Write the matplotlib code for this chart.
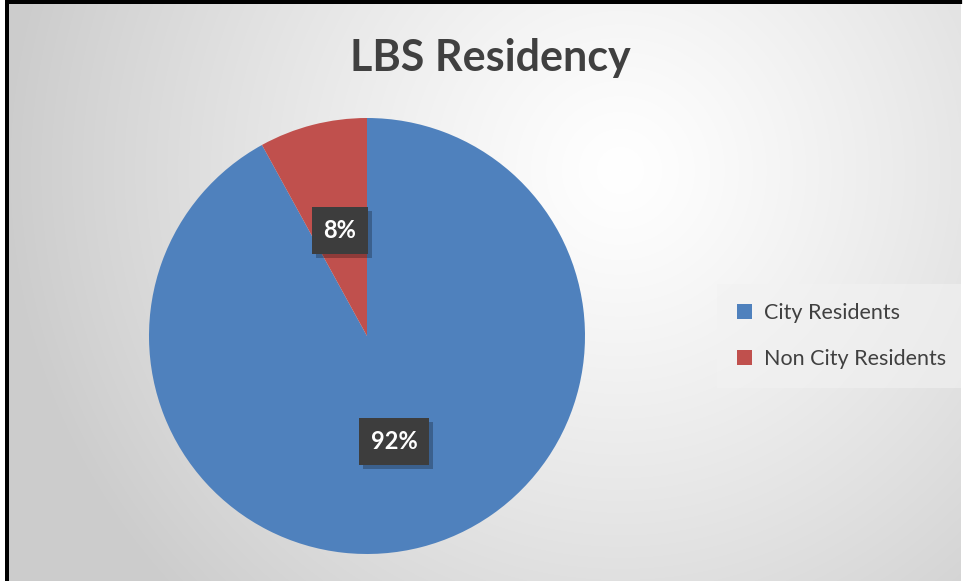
import numpy as np
import matplotlib
matplotlib.use("Agg")
import matplotlib.pyplot as plt
from matplotlib.patches import Rectangle
import matplotlib.patheffects as pe

title = "LBS Residency"
categories = ["City Residents", "Non City Residents"]
values = [92, 8]
colors = ["#4F81BD", "#C0504D"]

W, H = 963, 584
plt.rcParams['font.family'] = ['Lato', 'DejaVu Sans']

fig = plt.figure(figsize=(W / 100, H / 100), dpi=100)
ax = fig.add_axes([0, 0, 1, 1])

# radial gradient background
yy, xx = np.mgrid[0:H, 0:W]
cx, cy = 620, 170
d = np.sqrt((xx - cx) ** 2 + (yy - cy) ** 2) / 620.0
d = np.clip(d, 0, 1)
g = 1.0 - 0.20 * d ** 1.2
img = np.dstack([g, g, g])
ax.imshow(img, extent=(0, W, 0, H), origin='upper', zorder=0)

wedges, texts, autotexts = ax.pie(
    values, colors=colors, startangle=90, counterclock=False,
    center=(367, H - 336), radius=218, autopct='%.0f%%', pctdistance=0.5,
    textprops=dict(color='white', fontsize=17, fontweight='bold'),
    wedgeprops=dict(linewidth=0),
)
for w in wedges:
    w.set_zorder(2)
for t in autotexts:
    t.set_zorder(5)
    t.set_bbox(dict(boxstyle='square,pad=0.5', facecolor='#3d3d3d', edgecolor='none'))
    t.get_bbox_patch().set_path_effects([
        pe.SimplePatchShadow(offset=(3, -3), shadow_rgbFace='black', alpha=0.25),
        pe.Normal()])

ax.set_xlim(0, W)
ax.set_ylim(0, H)
ax.set_aspect('auto')
ax.axis('off')

ax.text(490, H - 58, title, ha='center', va='center', fontsize=31,
        fontweight='bold', color='#404040', zorder=6)

# borders
ax.add_patch(Rectangle((5, 0), 4, H, facecolor='black', edgecolor='none', zorder=7))
ax.add_patch(Rectangle((5, H - 4), W - 6, 4, facecolor='black', edgecolor='none', zorder=7))
ax.add_patch(Rectangle((0, 0), 5, H, facecolor='white', edgecolor='none', zorder=7))
ax.add_patch(Rectangle((0, 0), W, 3, facecolor='white', edgecolor='none', zorder=7))
ax.add_patch(Rectangle((W - 2, 0), 2, H - 4, facecolor='white', edgecolor='none', zorder=7))

leg = ax.legend(wedges, categories, loc='center left',
                bbox_to_anchor=(713 / W, 1 - 336 / H), frameon=True,
                fontsize=15.5, handlelength=0.7, handleheight=0.7,
                handletextpad=0.55, labelspacing=1.2, borderpad=0.6,
                labelcolor='#404040')
leg.get_frame().set_facecolor('#f2f2f2')
leg.get_frame().set_edgecolor('none')
leg.get_frame().set_alpha(0.6)
leg.get_frame().set_boxstyle('square')

fig.savefig('out.png', dpi=100)
